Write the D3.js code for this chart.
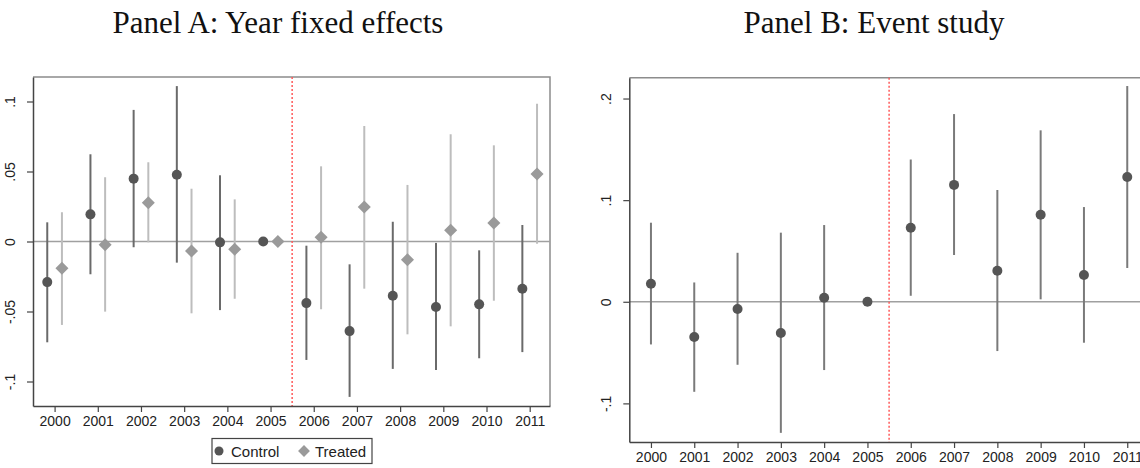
<!DOCTYPE html>
<html>
<head>
<meta charset="utf-8">
<script src="https://cdn.jsdelivr.net/npm/d3@7"></script>
<style>
	body { margin: 0; background: #fff; }
	svg { display: block; }
	.tick text { font-family: "Liberation Sans", Arial, sans-serif; font-size: 14px; fill: #222; }
	.title { font-family: "Liberation Serif", "Times New Roman", serif; font-size: 31px; fill: #111; }
</style>
</head>
<body>
<div id="graphic"></div>
<script>
var years = [2000,2001,2002,2003,2004,2005,2006,2007,2008,2009,2010,2011]

// Panel A: year fixed effects
var controlEst = [-0.029, 0.0194, 0.0449, 0.0477, -0.0006, 0, -0.044, -0.064, -0.0387, -0.0468, -0.0449, -0.0337]
var controlLo  = [-0.072, -0.0234, -0.0041, -0.0151, -0.049, null, -0.0846, -0.111, -0.091, -0.0918, -0.0834, -0.079]
var controlHi  = [0.0137, 0.0623, 0.094, 0.111, 0.0473, null, -0.003, -0.0163, 0.0141, -0.001, -0.0063, 0.0118]
var treatedEst = [-0.0191, -0.0023, 0.0277, -0.0068, -0.0056, 0, 0.003, 0.0246, -0.013, 0.008, 0.0132, 0.0482]
var treatedLo  = [-0.0596, -0.0501, -0.0006, -0.0513, -0.0409, null, -0.0484, -0.0337, -0.0663, -0.0606, -0.0423, -0.0016]
var treatedHi  = [0.0209, 0.0459, 0.0566, 0.0377, 0.0301, null, 0.0537, 0.0825, 0.0404, 0.0766, 0.0687, 0.0984]

// Panel B: event study
var eventEst = [0.0177, -0.0347, -0.0072, -0.0308, 0.004, 0, 0.0728, 0.115, 0.0305, 0.0856, 0.0263, 0.1227]
var eventLo  = [-0.042, -0.0886, -0.062, -0.129, -0.0672, null, 0.0059, 0.046, -0.0485, 0.0024, -0.0403, 0.0332]
var eventHi  = [0.0778, 0.019, 0.0482, 0.068, 0.0755, null, 0.140, 0.1847, 0.11, 0.1687, 0.0932, 0.2123]

var yTicksA = [-0.1, -0.05, 0, 0.05, 0.1]
var yLabelsA = ["-.1", "-.05", "0", ".05", ".1"]
var yTicksB = [-0.1, 0, 0.1, 0.2]
var yLabelsB = ["-.1", "0", ".1", ".2"]
var treatYear = 2005.5
var seriesNames = ["Control", "Treated"]

var width = 1140, height = 468
var svg = d3.select("#graphic").append("svg")
	.attr("width", width)
	.attr("height", height)

var xA = d3.scaleLinear().domain([1999.5, 2011.47]).range([33, 550])
var yA = d3.scaleLinear().domain([-0.1175, 0.1175]).range([406, 77])
var xB = d3.scaleLinear().domain([1999.5, 2011.47]).range([629.3, 1147.6])
var yB = d3.scaleLinear().domain([-0.138, 0.2205]).range([442, 77.7])

function drawFrame(x, y, yTicks, yLabels){
	var g = svg.append("g")
	var x0 = x.range()[0], x1 = x.range()[1], y0 = y.range()[0], y1 = y.range()[1]
	// top + right border
	g.append("path")
		.attr("d", "M" + x0 + "," + y1 + "H" + x1 + "V" + y0)
		.attr("fill", "none").attr("stroke", "#8c8c8c").attr("stroke-width", 1.5)
	// zero line
	g.append("line")
		.attr("x1", x0).attr("x2", x1)
		.attr("y1", y(0)).attr("y2", y(0))
		.attr("stroke", "#a0a0a0").attr("stroke-width", 1.5)
	// treatment line
	g.append("line")
		.attr("x1", x(treatYear)).attr("x2", x(treatYear))
		.attr("y1", y1).attr("y2", y0)
		.attr("stroke", "#ff5a5a").attr("stroke-width", 1.5)
		.attr("stroke-dasharray", "2,2")

	var yAxis = g.append("g")
		.attr("transform", "translate(" + x0 + ",0)")
		.call(d3.axisLeft(y).tickValues(yTicks).tickSize(6).tickSizeOuter(0)
			.tickFormat(function(d, i){ return yLabels[i] }))
	yAxis.selectAll(".tick text")
		.attr("transform", "rotate(-90)")
		.attr("x", 0).attr("y", -18)
		.attr("dy", "0")
		.attr("text-anchor", "middle")
	var xAxis = g.append("g")
		.attr("transform", "translate(0," + y0 + ")")
		.call(d3.axisBottom(x).tickValues(years).tickSize(6).tickSizeOuter(0)
			.tickFormat(d3.format("d")))
	xAxis.selectAll(".tick text").attr("y", 10)
	g.selectAll(".domain").attr("stroke", "#444").attr("stroke-width", 1.5)
	g.selectAll(".tick line").attr("stroke", "#444").attr("stroke-width", 1.2)
	return g
}

function drawSeries(g, x, y, est, lo, hi, offset, lineColor, pointColor, shape){
	var rows = years.map(function(yr, i){ return {year: yr, est: est[i], lo: lo[i], hi: hi[i]} })
	g.selectAll(null)
		.data(rows.filter(function(d){ return d.lo != null }))
		.enter().append("line")
		.attr("x1", function(d){ return x(d.year + offset) })
		.attr("x2", function(d){ return x(d.year + offset) })
		.attr("y1", function(d){ return y(d.lo) })
		.attr("y2", function(d){ return y(d.hi) })
		.attr("stroke", lineColor).attr("stroke-width", 2)
	if(shape == "circle"){
		g.selectAll(null)
			.data(rows).enter().append("circle")
			.attr("cx", function(d){ return x(d.year + offset) })
			.attr("cy", function(d){ return y(d.est) })
			.attr("r", 5)
			.attr("fill", pointColor)
	} else {
		var sym = d3.symbol(d3.symbolSquare).size(85)
		g.selectAll(null)
			.data(rows).enter().append("path")
			.attr("d", sym)
			.attr("transform", function(d){ return "translate(" + x(d.year + offset) + "," + y(d.est) + ") rotate(45)" })
			.attr("fill", pointColor)
	}
}

// Panel A
var gA = drawFrame(xA, yA, yTicksA, yLabelsA)
drawSeries(gA, xA, yA, controlEst, controlLo, controlHi, -0.17, "#6a6a6a", "#555", "circle")
drawSeries(gA, xA, yA, treatedEst, treatedLo, treatedHi, 0.17, "#bdbdbd", "#9a9a9a", "diamond")

// Panel B
var gB = drawFrame(xB, yB, yTicksB, yLabelsB)
drawSeries(gB, xB, yB, eventEst, eventLo, eventHi, 0, "#7a7a7a", "#555", "circle")

// titles
svg.append("text").attr("class", "title")
	.attr("x", 278).attr("y", 33).attr("text-anchor", "middle")
	.text("Panel A: Year fixed effects")
svg.append("text").attr("class", "title")
	.attr("x", 874).attr("y", 33).attr("text-anchor", "middle")
	.text("Panel B: Event study")

// legend
var legend = svg.append("g")
legend.append("rect")
	.attr("x", 212).attr("y", 438.5).attr("width", 160).attr("height", 25)
	.attr("fill", "#fff").attr("stroke", "#444").attr("stroke-width", 1.2)
legend.append("circle").attr("cx", 219).attr("cy", 451).attr("r", 4.5).attr("fill", "#555")
legend.append("path")
	.attr("d", d3.symbol(d3.symbolSquare).size(70))
	.attr("transform", "translate(304,451) rotate(45)")
	.attr("fill", "#9a9a9a")
legend.selectAll(null)
	.data(seriesNames).enter().append("text")
	.attr("x", function(d, i){ return i == 0 ? 231 : 315 })
	.attr("y", 456.5)
	.attr("font-family", "Liberation Sans, Arial, sans-serif")
	.attr("font-size", 15)
	.attr("fill", "#222")
	.text(function(d){ return d })
</script>
</body>
</html>
